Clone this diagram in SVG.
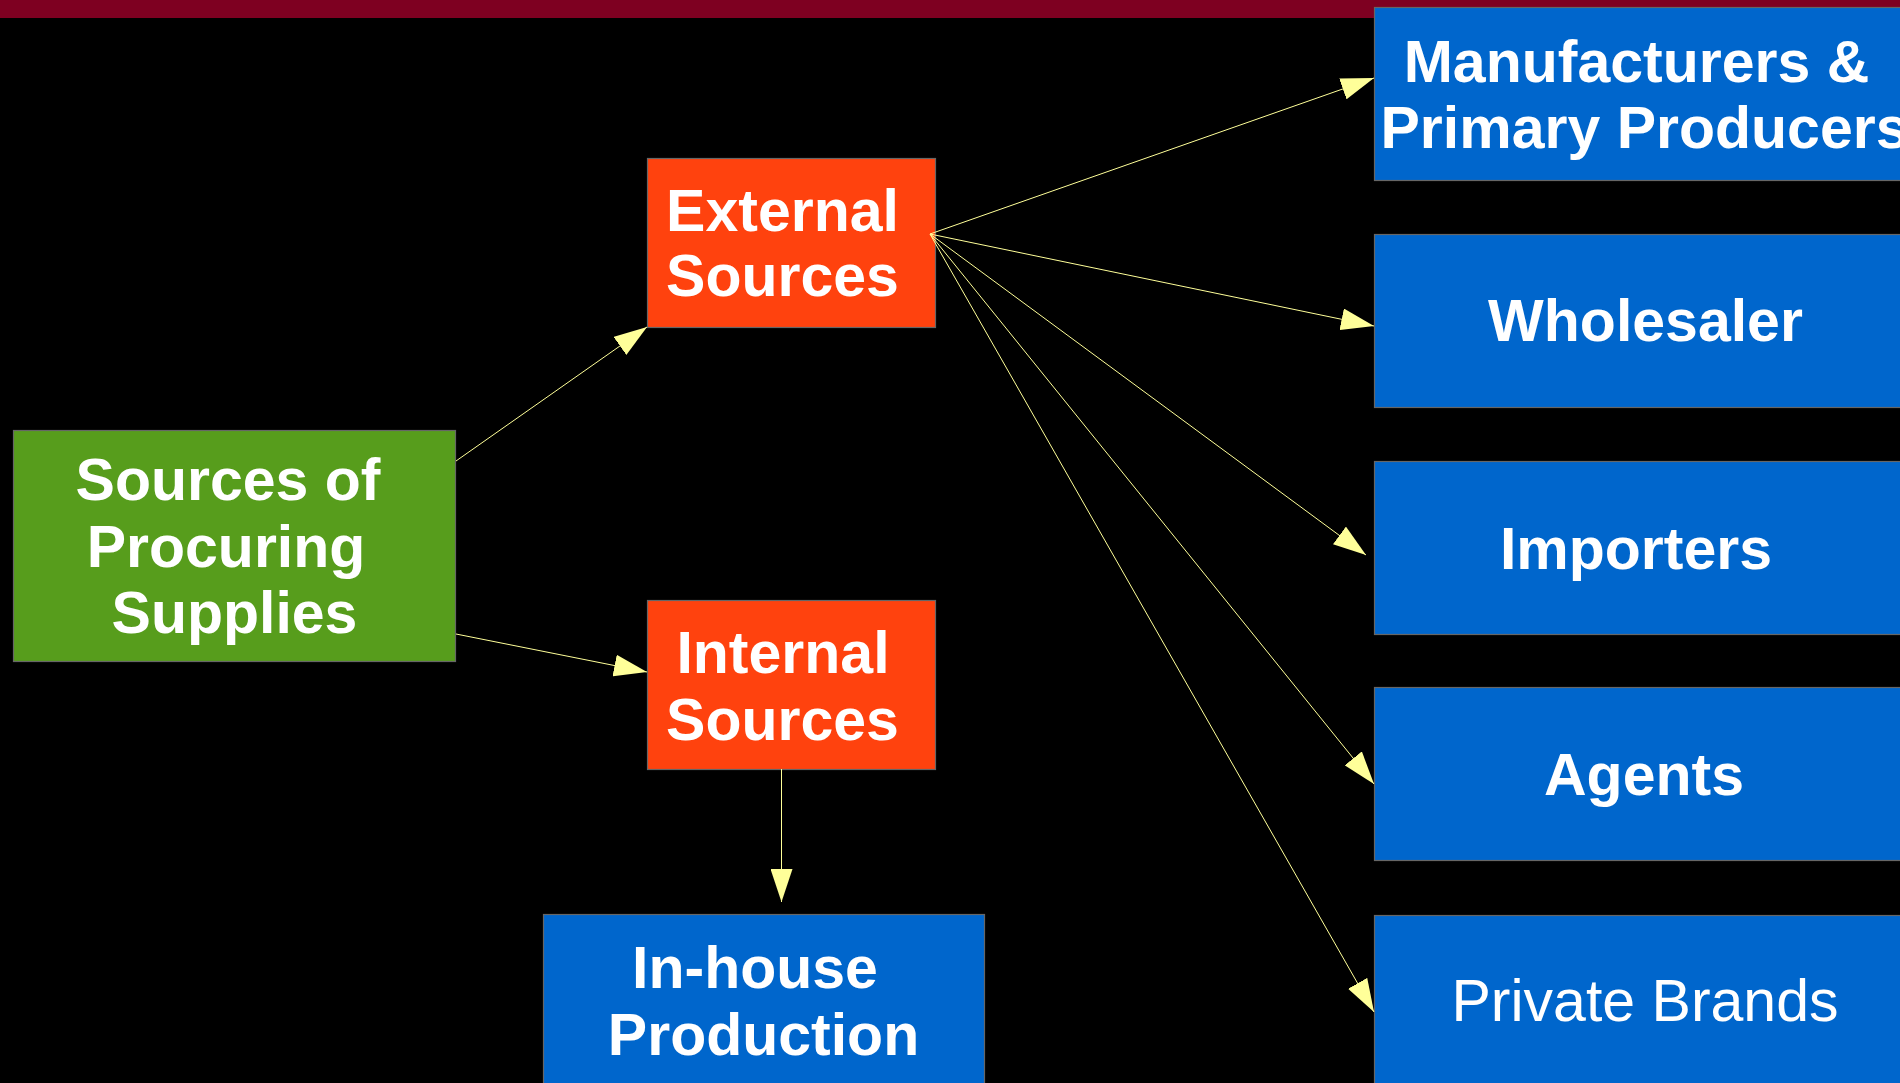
<svg xmlns="http://www.w3.org/2000/svg" width="1900" height="1083" viewBox="0 0 1900 1083">
<defs>
<style>
.box{stroke:#666666;stroke-width:1.2}
.green{fill:#579D1C}
.orange{fill:#FF420E}
.blue{fill:#0066CC}
.t{font-family:"Liberation Sans",Arial,sans-serif;font-size:59px;font-weight:bold;fill:#ffffff;text-anchor:middle}
.n{font-weight:normal}
.c{stroke:#ffff99;stroke-width:1;fill:none;marker-end:url(#ah)}
</style>
<marker id="ah" markerUnits="userSpaceOnUse" viewBox="0 0 33 22" markerWidth="33" markerHeight="22" refX="33" refY="11" orient="auto">
<path d="M0,0 L33,11 L0,22 Z" fill="#ffff99"/>
</marker>
</defs>
<rect x="0" y="0" width="1900" height="1083" fill="#000000"/>
<rect x="0" y="0" width="1900" height="18" fill="#7E0021"/>

<g id="node-sources">
<rect class="box green" x="13.5" y="430.5" width="442" height="231"/>
<text class="t" x="228" y="500">Sources of</text>
<text class="t" x="226" y="567">Procuring</text>
<text class="t" x="234.5" y="633">Supplies</text>
</g>

<g id="node-external">
<rect class="box orange" x="647.5" y="158.5" width="288" height="169"/>
<text class="t" x="782.5" y="231">External</text>
<text class="t" x="782.5" y="296">Sources</text>
</g>

<g id="node-internal">
<rect class="box orange" x="647.5" y="600.5" width="288" height="169"/>
<text class="t" x="783" y="673">Internal</text>
<text class="t" x="782.5" y="740">Sources</text>
</g>

<g id="node-inhouse">
<rect class="box blue" x="543.5" y="914.5" width="441" height="180"/>
<text class="t" x="755" y="988">In-house</text>
<text class="t" x="763.5" y="1055">Production</text>
</g>

<g id="node-manufacturers">
<rect class="box blue" x="1374.5" y="7.5" width="540" height="173"/>
<text class="t" x="1636.5" y="82">Manufacturers &amp;</text>
<text class="t" x="1644.5" y="148">Primary Producers</text>
</g>

<g id="node-wholesaler">
<rect class="box blue" x="1374.5" y="234.5" width="540" height="173"/>
<text class="t" x="1645.5" y="341">Wholesaler</text>
</g>

<g id="node-importers">
<rect class="box blue" x="1374.5" y="461.5" width="540" height="173"/>
<text class="t" x="1636" y="569">Importers</text>
</g>

<g id="node-agents">
<rect class="box blue" x="1374.5" y="687.5" width="540" height="173"/>
<text class="t" x="1644" y="795">Agents</text>
</g>

<g id="node-private">
<rect class="box blue" x="1374.5" y="915.5" width="540" height="180"/>
<text class="t n" x="1645" y="1021">Private Brands</text>
</g>

<g id="connectors">
<line class="c" x1="456" y1="461" x2="647" y2="327"/>
<line class="c" x1="456" y1="634" x2="647" y2="672"/>
<line class="c" x1="781.5" y1="769" x2="781.5" y2="902"/>
<line class="c" x1="930" y1="234" x2="1374" y2="78"/>
<line class="c" x1="930" y1="234" x2="1374" y2="326"/>
<line class="c" x1="930" y1="234" x2="1366" y2="555"/>
<line class="c" x1="930" y1="234" x2="1374" y2="784"/>
<line class="c" x1="930" y1="234" x2="1374" y2="1012"/>
</g>
</svg>
